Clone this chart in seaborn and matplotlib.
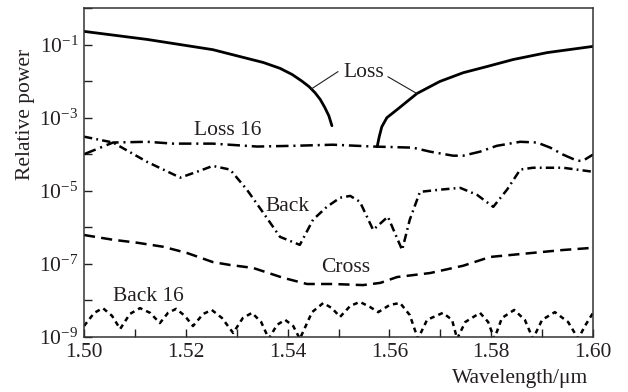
import numpy as np
import matplotlib
matplotlib.use("Agg")
import matplotlib.pyplot as plt
from matplotlib.ticker import MultipleLocator, NullLocator, FixedLocator
import seaborn as sns

# Wavelength (µm) and log10 of relative power for each curve
loss_a_wl = [1.5000, 1.5124, 1.5253, 1.5352, 1.5385, 1.5409, 1.5428, 1.5442, 1.5454, 1.5464,
             1.5473, 1.5481, 1.5487]
loss_a_lg = [-0.64, -0.86, -1.14, -1.49, -1.65, -1.82, -2.00, -2.15, -2.32, -2.50,
             -2.72, -2.95, -3.22]

loss_b_wl = [1.5576, 1.5580, 1.5585, 1.5595, 1.5615, 1.5654, 1.5699, 1.5745, 1.5792, 1.5843, 1.5910, 1.6000]
loss_b_lg = [-3.79, -3.52, -3.25, -3.00, -2.78, -2.34, -2.01, -1.77, -1.60, -1.41, -1.22, -1.05]

loss16_wl = [1.5000, 1.5057, 1.5124, 1.5175, 1.5253, 1.5340, 1.5411, 1.5489, 1.5568, 1.5646, 1.5680,
             1.5725, 1.5745, 1.5778, 1.5811, 1.5857, 1.5890, 1.5916, 1.5941, 1.5969, 1.5980, 1.6000]
loss16_lg = [-4.00, -3.68, -3.66, -3.71, -3.71, -3.79, -3.77, -3.74, -3.79, -3.82, -3.93,
             -4.04, -4.04, -3.93, -3.77, -3.66, -3.68, -3.82, -4.01, -4.18, -4.18, -4.01]

back_wl = [1.5000, 1.5057, 1.5124, 1.5189, 1.5228, 1.5253, 1.5287, 1.5320, 1.5352, 1.5385, 1.5424,
           1.5450, 1.5477, 1.5503, 1.5523, 1.5542, 1.5568, 1.5597, 1.5625, 1.5640, 1.5660, 1.5699,
           1.5739, 1.5772, 1.5804, 1.5831, 1.5857, 1.5882, 1.5941, 1.6000]
back_lg = [-3.52, -3.68, -4.21, -4.64, -4.45, -4.32, -4.42, -4.97, -5.60, -6.26, -6.48,
           -5.79, -5.44, -5.19, -5.14, -5.30, -6.07, -5.71, -6.62, -5.79, -5.03, -4.97,
           -4.92, -5.11, -5.44, -4.97, -4.42, -4.37, -4.37, -4.48]

cross_wl = [1.5000, 1.5057, 1.5104, 1.5155, 1.5202, 1.5253, 1.5287, 1.5332, 1.5391, 1.5438,
            1.5489, 1.5548, 1.5582, 1.5615, 1.5680, 1.5745, 1.5798, 1.5843, 1.5941, 1.6000]
cross_lg = [-6.21, -6.34, -6.42, -6.53, -6.70, -6.95, -7.03, -7.11, -7.38, -7.55,
            -7.55, -7.58, -7.52, -7.36, -7.25, -7.05, -6.81, -6.75, -6.62, -6.56]

back16_wl = [1.5000, 1.5020, 1.5037, 1.5055, 1.5071, 1.5090, 1.5110, 1.5130, 1.5149, 1.5165,
             1.5181, 1.5198, 1.5214, 1.5234, 1.5251, 1.5271, 1.5293, 1.5312, 1.5330, 1.5348,
             1.5363, 1.5379, 1.5395, 1.5411, 1.5424, 1.5448, 1.5470, 1.5487, 1.5503, 1.5523,
             1.5542, 1.5562, 1.5578, 1.5601, 1.5621, 1.5640, 1.5656, 1.5674, 1.5705, 1.5723,
             1.5733, 1.5749, 1.5778, 1.5794, 1.5806, 1.5821, 1.5845, 1.5866, 1.5882, 1.5900,
             1.5925, 1.5951, 1.5971, 1.5984, 1.6000]
back16_lg = [-8.70, -8.34, -8.21, -8.42, -8.78, -8.37, -8.21, -8.34, -8.62, -8.34,
             -8.23, -8.42, -8.70, -8.37, -8.26, -8.48, -8.89, -8.48, -8.34, -8.59,
             -9.05, -8.67, -8.53, -8.70, -9.05, -8.32, -8.07, -8.21, -8.45, -8.15,
             -8.04, -8.18, -8.32, -8.12, -8.07, -8.40, -9.05, -8.53, -8.34, -8.53,
             -9.05, -8.59, -8.34, -8.59, -9.05, -8.48, -8.26, -8.53, -9.05, -8.53,
             -8.32, -8.59, -9.05, -8.70, -8.34]

# Axis ticks
xtick_vals = [1.50, 1.52, 1.54, 1.56, 1.58, 1.60]
xtick_labels = ["1.50", "1.52", "1.54", "1.56", "1.58", "1.60"]
ytick_exps = [-9, -8, -7, -6, -5, -4, -3, -2, -1, 0]
ytick_labels = [r"$10^{-9}$", "", r"$10^{-7}$", "", r"$10^{-5}$", "", r"$10^{-3}$", "", r"$10^{-1}$", ""]

# Curve labels: (text, wavelength, log10 power of baseline)
curve_labels = [("Loss", 1.5550, -1.90), ("Loss 16", 1.5283, -3.47), ("Back", 1.5400, -5.55),
                ("Cross", 1.5514, -7.22), ("Back 16", 1.5127, -8.01)]

sns.set_theme(style="ticks")
ink = "#231f20"
plt.rcParams.update({
    "font.family": ["Liberation Serif", "DejaVu Serif"],
    "mathtext.fontset": "custom",
    "mathtext.rm": "Liberation Serif",
    "mathtext.it": "Liberation Serif:italic",
    "mathtext.bf": "Liberation Serif:bold",
    "font.size": 15.5,
    "lines.scale_dashes": False,
    "text.color": ink,
    "axes.labelcolor": ink,
    "xtick.color": ink,
    "ytick.color": ink,
    "axes.edgecolor": "#333333",
})

fig = plt.figure(figsize=(6.28, 3.92), dpi=100)
ax = fig.add_axes([0.1338, 0.1403, 0.8105, 0.8393])

def draw(wl, lg, ls, lw=1.8):
    sns.lineplot(x=np.asarray(wl), y=10.0 ** np.asarray(lg), ax=ax, color="black",
                 linewidth=lw, linestyle=ls, sort=False, estimator=None)

draw(loss_a_wl, loss_a_lg, "-", 2.0)
draw(loss_b_wl, loss_b_lg, "-", 2.0)
draw(loss16_wl, loss16_lg, (0, (9, 3.5, 1.5, 3.5)))
draw(back_wl, back_lg, (0, (6, 3, 1.3, 3)))
draw(cross_wl, cross_lg, (0, (8, 4.5)))
draw(back16_wl, back16_lg, (0, (3.5, 3)))

ax.set_yscale("log")
ax.set_xlim(1.50, 1.60)
ax.set_ylim(1e-9, 1e0)

ax.xaxis.set_major_locator(FixedLocator(xtick_vals))
ax.set_xticklabels(xtick_labels)
ax.xaxis.set_minor_locator(MultipleLocator(0.01))
ax.yaxis.set_major_locator(FixedLocator([10.0 ** e for e in ytick_exps]))
ax.set_yticklabels(ytick_labels)
ax.yaxis.set_minor_locator(NullLocator())

ax.tick_params(which="both", direction="in", top=False, right=False, width=1.0,
               length=6, pad=4, labelsize=15.5)
for s in ax.spines.values():
    s.set_linewidth(1.1)
    s.set_visible(True)

ax.set_ylabel("Relative power", fontsize=15.5)
ax.yaxis.set_label_coords(-0.097, 0.675)
ax.set_xlabel("Wavelength/μm", fontsize=15.5, ha="right")
ax.xaxis.set_label_coords(0.99, -0.098)

for text, wl, lg in curve_labels:
    ax.text(wl, 10.0 ** lg, text, ha="center", va="baseline", fontsize=15.5, color=ink)

# Leader lines from the "Loss" label to both branches
ax.annotate("", xy=(1.5446, 10 ** -2.22), xytext=(1.5499, 10 ** -1.74),
            arrowprops=dict(arrowstyle="-", lw=0.8, color=ink, shrinkA=0, shrinkB=0))
ax.annotate("", xy=(1.5654, 10 ** -2.34), xytext=(1.5597, 10 ** -1.88),
            arrowprops=dict(arrowstyle="-", lw=0.8, color=ink, shrinkA=0, shrinkB=0))

fig.savefig("out.png", dpi=100)
